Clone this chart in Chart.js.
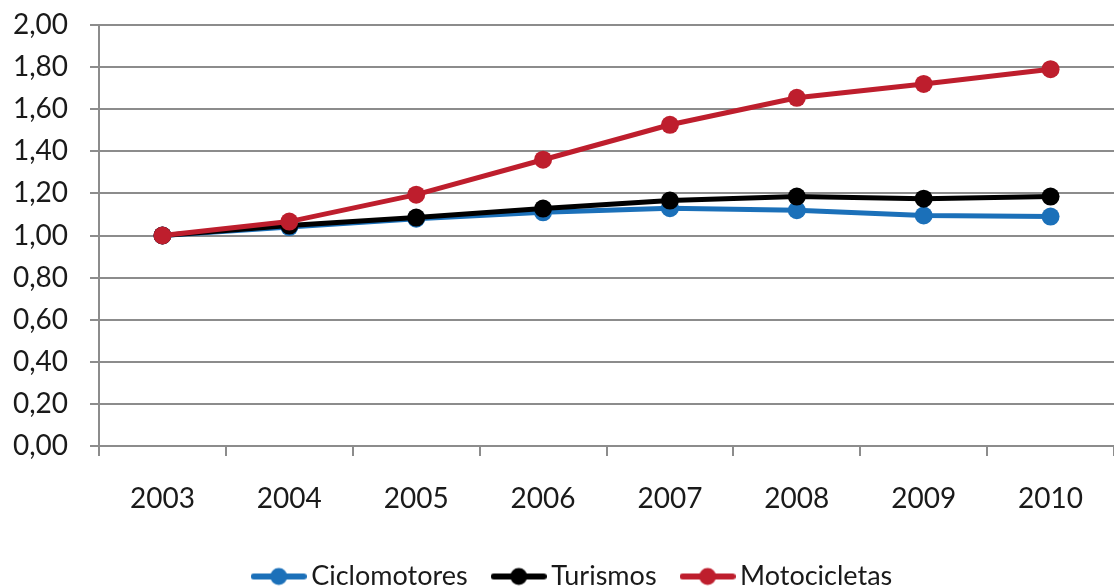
<!DOCTYPE html>
<html>
<head>
<meta charset="utf-8">
<script src="https://cdn.jsdelivr.net/npm/chart.js@4"></script>
<style>
    html, body { margin: 0; padding: 0; background: #fff; overflow: hidden; }
</style>
</head>
<body>
<canvas id="evolucionChart" width="1114" height="587"></canvas>
<script>
const years = ['2003', '2004', '2005', '2006', '2007', '2008', '2009', '2010'];
const ciclomotores = [1.00, 1.04, 1.08, 1.11, 1.13, 1.12, 1.095, 1.09];
const turismos = [1.00, 1.047, 1.085, 1.128, 1.166, 1.185, 1.175, 1.185];
const motocicletas = [1.00, 1.066, 1.194, 1.36, 1.526, 1.654, 1.72, 1.79];
const yTicks = [0, 0.2, 0.4, 0.6, 0.8, 1.0, 1.2, 1.4, 1.6, 1.8, 2.0];

const gridGray = '#8c8c8c';
const fontFamily = 'Lato, "Open Sans", sans-serif';

// legend marker: short thick line with a dot in the middle
function legendMarker(color){
    let c = document.createElement('canvas');
    c.width = 56;
    c.height = 20;
    let g = c.getContext('2d');
    g.strokeStyle = color;
    g.lineWidth = 6;
    g.lineCap = 'round';
    g.beginPath();
    g.moveTo(3, 10);
    g.lineTo(53, 10);
    g.stroke();
    g.fillStyle = color;
    g.beginPath();
    g.arc(28, 10, 8.5, 0, Math.PI * 2);
    g.fill();
    return c;
}

function makeSet(label, data, color, order){
    return {
        label: label,
        data: data,
        borderColor: color,
        backgroundColor: color,
        pointBackgroundColor: color,
        pointBorderColor: color,
        borderWidth: 5,
        pointRadius: 9,
        pointHoverRadius: 9,
        pointBorderWidth: 0,
        tension: 0,
        order: order,
        pointStyle: 'circle',
        legendMarker: legendMarker(color)
    };
}

// nudge the legend a bit to the right of the canvas centre
const legendShift = {
    id: 'legendShift',
    afterLayout(chart) {
        chart.legend.left += 19;
        chart.legend.right += 19;
    }
};

let ctx = document.getElementById('evolucionChart').getContext('2d');
let evolucionChart = new Chart(ctx, {
    type: 'line',
    data: {
        labels: years,
        datasets: [
            makeSet('Ciclomotores', ciclomotores, '#1b70b9', 2),
            makeSet('Turismos', turismos, '#000000', 1),
            makeSet('Motocicletas', motocicletas, '#be1e2d', 0)
        ]
    },
    plugins: [legendShift],
    options: {
        responsive: false,
        animation: false,
        layout: {
            autoPadding: false,
            padding: { top: 25, right: 0, left: 0, bottom: -13 }
        },
        plugins: {
            tooltip: { enabled: false },
            legend: {
                position: 'bottom',
                labels: {
                    color: '#1a1a1a',
                    usePointStyle: true,
                    pointStyleWidth: 38,
                    boxHeight: 20,
                    padding: 32,
                    font: { family: fontFamily, size: 27 },
                    generateLabels(chart) {
                        return chart.data.datasets.map((ds, i) => ({
                            text: ds.label,
                            fillStyle: ds.borderColor,
                            strokeStyle: ds.borderColor,
                            fontColor: '#1a1a1a',
                            lineWidth: 0,
                            pointStyle: ds.legendMarker,
                            hidden: false,
                            datasetIndex: i
                        }));
                    }
                }
            }
        },
        scales: {
            x: {
                offset: true,
                grid: {
                    offset: true,
                    drawOnChartArea: false,
                    color: gridGray,
                    lineWidth: 2,
                    tickLength: 10
                },
                border: { color: gridGray, width: 2 },
                ticks: {
                    color: '#1a1a1a',
                    padding: 26,
                    maxRotation: 0,
                    font: { family: fontFamily, size: 28 }
                },
                afterFit(scale) {
                    scale.height = 85;
                    scale.paddingLeft = 0;
                    scale.paddingRight = 0;
                }
            },
            y: {
                min: 0,
                max: 2,
                afterBuildTicks(scale) {
                    scale.ticks = yTicks.map(v => ({ value: v }));
                },
                grid: {
                    color: gridGray,
                    lineWidth: 2,
                    tickLength: 9
                },
                border: { color: gridGray, width: 2 },
                ticks: {
                    color: '#1a1a1a',
                    padding: 22,
                    font: { family: fontFamily, size: 28 },
                    callback(value) {
                        return value.toFixed(2).replace('.', ',');
                    }
                },
                afterFit(scale) {
                    scale.width = 99;
                    scale.paddingTop = 0;
                    scale.paddingBottom = 0;
                }
            }
        }
    }
});
</script>
</body>
</html>
